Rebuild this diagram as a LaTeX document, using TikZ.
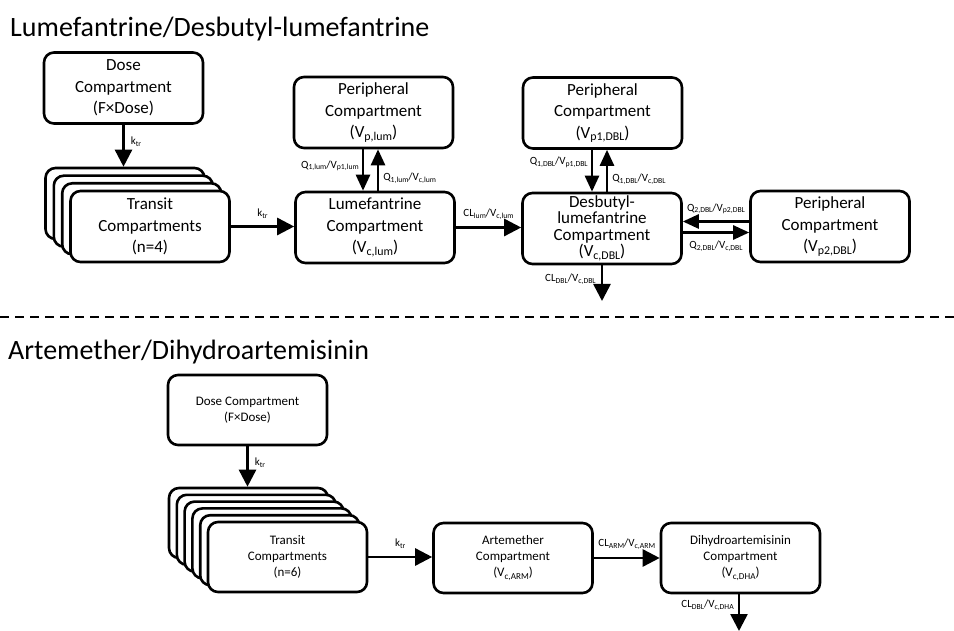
\documentclass[tikz,border=0pt]{standalone}
\usepackage{fontspec}
\setmainfont{Carlito}
\usetikzlibrary{arrows.meta,calc}
\newcommand\sbs[1]{\raisebox{-0.35ex}{\scalebox{0.7}{#1}}}
\begin{document}
\begin{tikzpicture}[x=1pt,y=-1pt,
 box/.style={draw, line width=2.6pt, rounded corners=10pt, fill=white, align=center, inner sep=0pt, font=\fontsize{17}{21.5}\selectfont},
 boxA/.style={box, minimum width=159pt, minimum height=71pt},
 sbox/.style={box, minimum width=159pt, minimum height=70pt, font=\fontsize{13}{16}\selectfont},
 arr/.style={line width=2.6pt, -{Triangle[length=17pt,width=17pt]}},
 arrs/.style={line width=2.6pt, -{Triangle[length=16pt,width=14pt]}},
 lbl/.style={font=\fontsize{11}{13}\selectfont, inner sep=1pt},
 ttl/.style={font=\fontsize{28}{32}\selectfont, anchor=west, inner sep=0pt},
 sep/.style={line width=2pt, dash pattern=on 9pt off 6pt}]
\useasboundingbox (0,0) rectangle (954,631);
\fill[white] (0,0) rectangle (954,631);

% ---------- top section ----------
\node[ttl] (title1) at (10,29) {Lumefantrine/Desbutyl-lumefantrine};

\node[boxA] (dose1) at (123.5,88) {Dose\\Compartment\\(F×Dose)};

\node[boxA] (t1a) at (125,203.5) {};
\node[boxA] (t1b) at (133.3,211.2) {};
\node[boxA] (t1c) at (141.7,218.8) {};
\node[boxA] (t1) at (150,226.5) {Transit\\Compartments\\(n=4)};

\node[boxA] (lperi) at (373.5,112.5) {Peripheral\\Compartment\\(V\sbs{p,lum})};
\node[boxA] (lum) at (375,227.5) {Lumefantrine\\Compartment\\(V\sbs{c,lum})};

\node[boxA] (dperi) at (602.5,113) {Peripheral\\Compartment\\(V\sbs{p1,DBL})};
\node[boxA, font=\fontsize{17}{16.5}\selectfont] (dbl) at (602,228.5) {Desbutyl-\\lumefantrine\\Compartment\\(V\sbs{c,DBL})};
\node[boxA] (dperi2) at (830,226.5) {Peripheral\\Compartment\\(V\sbs{p2,DBL})};

\draw[arr] (dose1.south) -- (dose1.south |- t1a.north)
  node[lbl, pos=0.4, right=5pt] {k\sbs{tr}};
\draw[arr] (t1.east) -- (t1.east -| lum.west)
  node[lbl, midway, above=6pt] {k\sbs{tr}};

\draw[arrs] ([xshift=-10.5pt]lperi.south) -- ([xshift=-10.5pt]lperi.south |- lum.north)
  node[lbl, pos=0.4, left=2pt] {Q\sbs{1,lum}/V\sbs{p1,lum}};
\draw[arrs] ([xshift=4.5pt]lperi.south |- lum.north) -- ([xshift=4.5pt]lperi.south)
  node[lbl, pos=0.3, right=3pt] {Q\sbs{1,lum}/V\sbs{c,lum}};

\draw[arr] (lum.east) -- (lum.east -| dbl.west)
  node[lbl, midway, above=6pt] {CL\sbs{lum}/V\sbs{c,lum}};

\draw[arrs] ([xshift=-10.5pt]dperi.south) -- ([xshift=-10.5pt]dperi.south |- dbl.north)
  node[lbl, pos=0.3, left=2pt] {Q\sbs{1,DBL}/V\sbs{p1,DBL}};
\draw[arrs] ([xshift=4.5pt]dperi.south |- dbl.north) -- ([xshift=4.5pt]dperi.south)
  node[lbl, pos=0.3, right=3pt] {Q\sbs{1,DBL}/V\sbs{c,DBL}};

\draw[arrs] ([yshift=5pt]dperi2.west) -- ([yshift=5pt]dperi2.west -| dbl.east)
  node[lbl, midway, above=5pt] {Q\sbs{2,DBL}/V\sbs{p2,DBL}};
\draw[arrs] ([yshift=-6pt]dperi2.west -| dbl.east) -- ([yshift=-6pt]dperi2.west)
  node[lbl, midway, below=6pt] {Q\sbs{2,DBL}/V\sbs{c,DBL}};

\coordinate (dblout) at (602,301);
\draw[arr] (dbl.south -| dblout) -- (dblout)
  node[lbl, pos=0.4, left=4pt] {CL\sbs{DBL}/V\sbs{c,DBL}};

% ---------- separator ----------
\coordinate (sl) at (0,317);
\coordinate (sr) at (954,317);
\draw[sep] (sl) -- (sr);

% ---------- bottom section ----------
\node[ttl] (title2) at (8,352) {Artemether/Dihydroartemisinin};

\node[sbox] (dose2) at (247.5,410) {Dose Compartment\\(F×Dose)};

\node[sbox] (t2a) at (248.5,523) {};
\node[sbox] (t2b) at (256.3,529.8) {};
\node[sbox] (t2c) at (264.1,536.6) {};
\node[sbox] (t2d) at (271.9,543.4) {};
\node[sbox] (t2e) at (279.7,550.2) {};
\node[sbox] (t2) at (287.5,557) {Transit\\Compartments\\(n=6)};

\node[sbox] (arm) at (513,558) {Artemether\\Compartment\\(V\sbs{c,ARM})};
\node[sbox] (dha) at (740.5,558) {Dihydroartemisinin\\Compartment\\(V\sbs{c,DHA})};

\draw[arr] (dose2.south) -- (dose2.south |- t2a.north)
  node[lbl, pos=0.4, right=5pt] {k\sbs{tr}};
\draw[arr] (t2.east) -- (t2.east -| arm.west)
  node[lbl, midway, above=6pt] {k\sbs{tr}};
\draw[arr] (arm.east) -- (arm.east -| dha.west)
  node[lbl, midway, above=6pt] {CL\sbs{ARM}/V\sbs{c,ARM}};

\coordinate (dhaout) at (739,631);
\draw[arr] (dha.south -| dhaout) -- (dhaout)
  node[lbl, pos=0.3, left=3pt] {CL\sbs{DBL}/V\sbs{c,DHA}};
\end{tikzpicture}
\end{document}
